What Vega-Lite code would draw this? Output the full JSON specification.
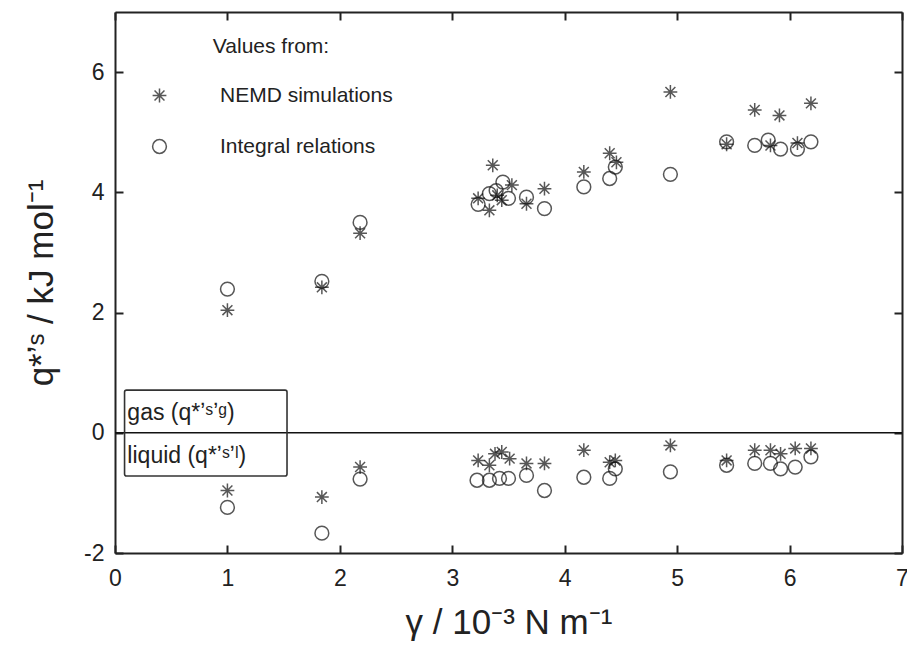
{
  "$schema": "https://vega.github.io/schema/vega-lite/v6.json",
  "width": 787,
  "height": 541,
  "autosize": {"type": "none"},
  "padding": {"left": 115, "top": 12, "right": 5, "bottom": 99},
  "background": "white",
  "data": {"values": [
    {"g": 1.00, "q": 2.04, "m": "NEMD simulations"},
    {"g": 1.84, "q": 2.42, "m": "NEMD simulations"},
    {"g": 2.18, "q": 3.32, "m": "NEMD simulations"},
    {"g": 3.23, "q": 3.90, "m": "NEMD simulations"},
    {"g": 3.36, "q": 4.45, "m": "NEMD simulations"},
    {"g": 3.33, "q": 3.70, "m": "NEMD simulations"},
    {"g": 3.40, "q": 3.95, "m": "NEMD simulations"},
    {"g": 3.44, "q": 3.87, "m": "NEMD simulations"},
    {"g": 3.53, "q": 4.12, "m": "NEMD simulations"},
    {"g": 3.66, "q": 3.81, "m": "NEMD simulations"},
    {"g": 3.82, "q": 4.06, "m": "NEMD simulations"},
    {"g": 4.17, "q": 4.34, "m": "NEMD simulations"},
    {"g": 4.40, "q": 4.65, "m": "NEMD simulations"},
    {"g": 4.46, "q": 4.50, "m": "NEMD simulations"},
    {"g": 4.94, "q": 5.67, "m": "NEMD simulations"},
    {"g": 5.44, "q": 4.80, "m": "NEMD simulations"},
    {"g": 5.69, "q": 5.37, "m": "NEMD simulations"},
    {"g": 5.83, "q": 4.78, "m": "NEMD simulations"},
    {"g": 5.91, "q": 5.28, "m": "NEMD simulations"},
    {"g": 6.07, "q": 4.82, "m": "NEMD simulations"},
    {"g": 6.19, "q": 5.48, "m": "NEMD simulations"},
    {"g": 1.00, "q": -0.96, "m": "NEMD simulations"},
    {"g": 1.84, "q": -1.07, "m": "NEMD simulations"},
    {"g": 2.18, "q": -0.57, "m": "NEMD simulations"},
    {"g": 3.23, "q": -0.46, "m": "NEMD simulations"},
    {"g": 3.33, "q": -0.54, "m": "NEMD simulations"},
    {"g": 3.38, "q": -0.35, "m": "NEMD simulations"},
    {"g": 3.44, "q": -0.32, "m": "NEMD simulations"},
    {"g": 3.51, "q": -0.43, "m": "NEMD simulations"},
    {"g": 3.66, "q": -0.51, "m": "NEMD simulations"},
    {"g": 3.82, "q": -0.51, "m": "NEMD simulations"},
    {"g": 4.17, "q": -0.29, "m": "NEMD simulations"},
    {"g": 4.40, "q": -0.49, "m": "NEMD simulations"},
    {"g": 4.45, "q": -0.46, "m": "NEMD simulations"},
    {"g": 4.94, "q": -0.21, "m": "NEMD simulations"},
    {"g": 5.44, "q": -0.46, "m": "NEMD simulations"},
    {"g": 5.69, "q": -0.29, "m": "NEMD simulations"},
    {"g": 5.83, "q": -0.29, "m": "NEMD simulations"},
    {"g": 5.92, "q": -0.35, "m": "NEMD simulations"},
    {"g": 6.05, "q": -0.26, "m": "NEMD simulations"},
    {"g": 6.19, "q": -0.26, "m": "NEMD simulations"},
    {"g": 1.00, "q": 2.39, "m": "Integral relations"},
    {"g": 1.84, "q": 2.52, "m": "Integral relations"},
    {"g": 2.18, "q": 3.50, "m": "Integral relations"},
    {"g": 3.23, "q": 3.80, "m": "Integral relations"},
    {"g": 3.33, "q": 3.98, "m": "Integral relations"},
    {"g": 3.39, "q": 4.03, "m": "Integral relations"},
    {"g": 3.45, "q": 4.17, "m": "Integral relations"},
    {"g": 3.50, "q": 3.90, "m": "Integral relations"},
    {"g": 3.66, "q": 3.92, "m": "Integral relations"},
    {"g": 3.82, "q": 3.73, "m": "Integral relations"},
    {"g": 4.17, "q": 4.09, "m": "Integral relations"},
    {"g": 4.40, "q": 4.23, "m": "Integral relations"},
    {"g": 4.45, "q": 4.42, "m": "Integral relations"},
    {"g": 4.94, "q": 4.30, "m": "Integral relations"},
    {"g": 5.44, "q": 4.84, "m": "Integral relations"},
    {"g": 5.69, "q": 4.78, "m": "Integral relations"},
    {"g": 5.81, "q": 4.87, "m": "Integral relations"},
    {"g": 5.92, "q": 4.72, "m": "Integral relations"},
    {"g": 6.07, "q": 4.72, "m": "Integral relations"},
    {"g": 6.19, "q": 4.84, "m": "Integral relations"},
    {"g": 1.00, "q": -1.24, "m": "Integral relations"},
    {"g": 1.84, "q": -1.67, "m": "Integral relations"},
    {"g": 2.18, "q": -0.77, "m": "Integral relations"},
    {"g": 3.22, "q": -0.79, "m": "Integral relations"},
    {"g": 3.33, "q": -0.79, "m": "Integral relations"},
    {"g": 3.42, "q": -0.76, "m": "Integral relations"},
    {"g": 3.50, "q": -0.76, "m": "Integral relations"},
    {"g": 3.66, "q": -0.71, "m": "Integral relations"},
    {"g": 3.82, "q": -0.96, "m": "Integral relations"},
    {"g": 4.17, "q": -0.74, "m": "Integral relations"},
    {"g": 4.40, "q": -0.76, "m": "Integral relations"},
    {"g": 4.45, "q": -0.60, "m": "Integral relations"},
    {"g": 4.94, "q": -0.65, "m": "Integral relations"},
    {"g": 5.44, "q": -0.54, "m": "Integral relations"},
    {"g": 5.69, "q": -0.51, "m": "Integral relations"},
    {"g": 5.83, "q": -0.51, "m": "Integral relations"},
    {"g": 5.92, "q": -0.60, "m": "Integral relations"},
    {"g": 6.05, "q": -0.57, "m": "Integral relations"},
    {"g": 6.19, "q": -0.40, "m": "Integral relations"}
  ]},
  "layer": [
    {
      "data": {"values": [{}]},
      "mark": {"type": "rule", "color": "#111", "strokeWidth": 1.5},
      "encoding": {"y": {"datum": 0, "type": "quantitative", "axis": null}}
    },
    {
      "data": {"values": [{}]},
      "mark": {"type": "rect", "fill": "white", "fillOpacity": 0, "stroke": "#333", "strokeWidth": 1.6, "cornerRadius": 2},
      "encoding": {
        "x": {"datum": 0.085, "type": "quantitative", "axis": null},
        "x2": {"datum": 1.53},
        "y": {"datum": 0.71, "type": "quantitative", "axis": null},
        "y2": {"datum": -0.72}
      }
    },
    {
      "data": {"values": [{"label": "gas (q*ʼˢʼᵍ)", "pos": 0.33}, {"label": "liquid (q*ʼˢʼˡ)", "pos": -0.38}]},
      "mark": {"type": "text", "align": "left", "baseline": "middle", "font": "Liberation Sans", "fontSize": 23, "fill": "#222"},
      "encoding": {
        "x": {"datum": 0.11, "type": "quantitative", "axis": null},
        "y": {"field": "pos", "type": "quantitative", "axis": null},
        "text": {"field": "label"}
      }
    },
    {
      "mark": {"type": "point", "opacity": 0},
      "encoding": {
        "x": {"field": "g", "type": "quantitative", "axis": {"orient": "top", "labels": false, "title": null, "values": [0, 1, 2, 3, 4, 5, 6, 7]}},
        "y": {"field": "q", "type": "quantitative", "axis": {"orient": "right", "labels": false, "title": null, "values": [-2, 0, 2, 4, 6]}}
      }
    },
    {
      "mark": {"type": "point", "filled": false, "color": "#111", "strokeWidth": 1.5, "size": 190},
      "encoding": {
        "x": {"field": "g", "type": "quantitative", "scale": {"domain": [0, 7], "nice": false, "zero": false},
              "axis": {"orient": "bottom", "values": [0, 1, 2, 3, 4, 5, 6, 7], "title": "γ / 10⁻³ N m⁻¹", "titlePadding": 15, "labelPadding": 22}},
        "y": {"field": "q", "type": "quantitative", "scale": {"domain": [-2, 7], "nice": false, "zero": false},
              "axis": {"orient": "left", "values": [-2, 0, 2, 4, 6], "title": "q*ʼˢ / kJ mol⁻¹", "titlePadding": 24, "labelPadding": 19}},
        "shape": {"field": "m", "type": "nominal",
                  "scale": {"domain": ["NEMD simulations", "Integral relations"],
                            "range": ["M-1,0L1,0M0,-1L0,1M-0.72,-0.72L0.72,0.72M-0.72,0.72L0.72,-0.72", "circle"]},
                  "legend": {"title": "Values from:"}}
      }
    }
  ],
  "resolve": {"axis": {"x": "independent", "y": "independent"}},
  "config": {
    "view": {"stroke": null},
    "axis": {
      "grid": false,
      "domainColor": "#222",
      "domainWidth": 2,
      "tickColor": "#222",
      "tickWidth": 2,
      "tickSize": -8,
      "labelFont": "Liberation Sans",
      "labelFontSize": 23,
      "labelColor": "#222",
      "labelFlush": false,
      "labelExpr": "'' + datum.value",
      "titleFont": "Liberation Sans",
      "titleFontSize": 35,
      "titleFontWeight": "normal",
      "titleColor": "#222"
    },
    "legend": {
      "orient": "none",
      "legendX": 34,
      "legendY": 24,
      "titleAnchor": "middle",
      "titleFont": "Liberation Sans",
      "titleFontSize": 21,
      "titleFontWeight": "normal",
      "titleColor": "#222",
      "titlePadding": 28,
      "labelFont": "Liberation Sans",
      "labelFontSize": 21,
      "labelColor": "#222",
      "labelLimit": 400,
      "labelOffset": 50,
      "rowPadding": 29,
      "symbolSize": 190,
      "symbolStrokeWidth": 1.5,
      "symbolStrokeColor": "#111",
      "symbolFillColor": "transparent"
    }
  }
}
